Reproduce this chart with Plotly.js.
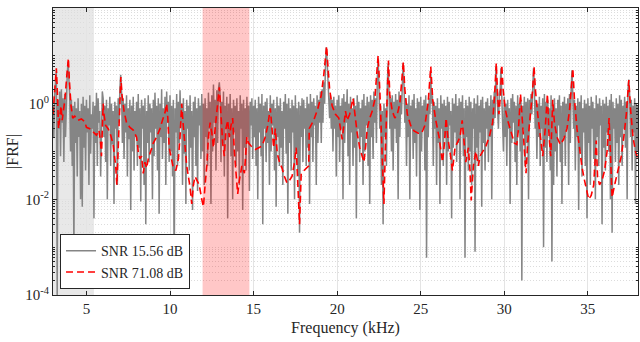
<!DOCTYPE html>
<html>
<head>
<meta charset="utf-8">
<script src="https://cdn.plot.ly/plotly-3.0.1.min.js"></script>
<style>html,body{margin:0;padding:0;background:#fff}#chart{width:640px;height:342px}</style>
</head>
<body>
<div id="chart"></div>
<script>
// Noisy FRF (SNR 15.56 dB), sampled every 0.05 kHz from 3.00 kHz
const grayStartKHz = 3.0;
const grayStepKHz = 0.05;
const grayFRF = [
/*3*/  0.9,0.2,1.5,3.5,5.0,0.0001,1.2,0.3,1.8,0.08,2.0,0.4,1.3,0.06,1.6,0.2,2.5,4.0,7.5,3.0,
/*4*/  1.5,0.1,1.2,0.05,0.9,0.0008,1.1,0.15,0.8,0.03,1.3,0.2,0.7,0.01,1.0,0.007,1.4,0.12,0.9,0.04,
/*5*/  1.2,0.25,0.8,0.02,1.5,0.09,0.6,0.3,1.1,0.004,0.9,0.15,1.7,0.05,1.3,0.4,0.7,0.03,1.0,1.8,
/*6*/  1.3,0.2,0.9,0.06,1.2,0.01,0.8,0.35,1.4,0.05,1.0,0.14,0.7,0.008,1.1,0.3,0.9,0.02,1.3,0.4,
/*7*/  2.0,4.0,1.8,0.15,1.3,0.07,1.0,0.25,1.5,0.03,0.8,0.18,1.2,0.006,0.9,0.1,1.4,0.04,0.7,0.2,
/*8*/  1.1,0.05,1.6,0.12,0.8,0.009,1.2,0.3,0.9,0.02,1.3,0.003,0.7,0.15,1.5,0.06,1.0,0.25,0.8,0.01,
/*9*/  1.2,0.08,1.7,0.3,0.9,0.04,1.3,0.005,1.0,0.2,2.0,0.07,0.8,0.15,1.4,0.02,1.8,0.4,1.1,0.06,
/*10*/ 1.5,0.1,0.9,0.03,1.2,0.0002,0.8,0.25,1.6,0.05,1.1,0.15,1.9,0.4,1.0,0.02,1.3,0.09,0.7,0.008,
/*11*/ 1.2,0.3,0.9,0.04,1.5,0.12,0.7,0.006,1.1,0.2,1.4,0.05,0.8,0.015,1.3,0.35,0.9,0.07,1.6,0.1,
/*12*/ 1.0,0.02,1.3,0.2,0.8,0.05,1.7,0.3,1.1,0.008,1.5,0.1,2.5,0.4,1.2,0.04,1.9,0.15,2.0,2.8,
/*13*/ 1.5,0.06,1.1,0.15,1.8,0.03,0.9,0.3,1.4,0.004,1.0,0.2,1.6,0.08,0.8,0.01,1.2,0.25,0.9,0.05,
/*14*/ 1.3,0.1,0.7,0.02,1.5,0.3,1.0,0.006,1.2,0.12,0.8,0.04,1.4,0.2,0.9,0.015,1.1,0.35,1.3,0.07,
/*15*/ 0.9,0.2,1.2,0.05,0.8,0.01,1.4,0.25,1.0,0.08,1.6,0.003,0.9,0.3,1.1,0.06,1.3,0.15,0.7,0.02,
/*16*/ 1.5,0.1,1.0,0.35,1.2,0.04,0.8,0.007,1.4,0.2,0.9,0.05,1.3,0.12,0.7,0.02,1.1,0.3,1.6,0.09,
/*17*/ 1.0,0.005,1.3,0.15,0.8,0.04,1.2,0.25,0.9,0.01,1.5,0.1,0.8,0.03,1.1,0.002,0.9,0.2,1.3,0.06,
/*18*/ 1.2,0.3,0.8,0.05,1.4,0.12,1.0,0.008,1.6,0.2,1.1,0.06,1.3,0.35,0.9,0.02,1.5,0.15,1.2,0.4,
/*19*/ 1.8,0.15,2.0,0.4,2.8,1.0,6.0,15,8.0,2.5,1.8,0.5,1.5,0.3,1.2,0.1,1.4,0.3,0.9,0.03,
/*20*/ 1.2,0.2,1.5,0.06,0.9,0.3,1.3,0.01,1.6,0.15,1.1,0.4,2.0,0.08,1.0,0.02,1.4,0.25,0.8,0.05,
/*21*/ 1.3,0.12,0.9,0.004,1.5,0.3,1.1,0.06,0.8,0.2,1.2,0.02,1.6,0.1,0.9,0.35,1.4,0.05,1.1,0.008,
/*22*/ 1.5,0.2,1.2,0.07,1.8,0.4,1.3,0.15,3.0,9.0,2.5,0.3,0.9,0.02,0.7,0.003,1.0,0.2,0.8,0.05,
/*23*/ 2.5,7.0,2.0,0.3,1.3,0.1,1.5,0.04,1.1,0.3,1.6,0.15,1.2,0.01,1.8,0.2,1.5,0.6,2.5,7.0,
/*24*/ 2.5,0.4,1.3,0.05,1.0,0.2,1.5,0.01,0.9,0.3,1.2,0.07,1.6,0.15,0.8,0.03,1.3,0.25,1.1,0.006,
/*25*/ 1.4,0.1,0.9,0.3,1.2,0.04,1.5,0.0006,1.0,0.2,1.3,0.6,4.5,1.0,1.5,0.05,1.1,0.3,0.9,0.02,
/*26*/ 1.3,0.15,0.8,0.008,1.5,0.3,1.0,0.05,1.2,0.2,0.9,0.02,1.4,0.1,1.1,0.35,0.7,0.004,1.3,0.12,
/*27*/ 1.0,0.25,1.6,0.06,0.9,0.15,1.3,0.01,1.1,0.3,1.5,0.08,0.8,0.0006,1.2,0.2,0.9,0.04,1.4,0.1,
/*28*/ 1.1,0.02,0.8,0.3,1.3,0.0008,1.0,0.12,1.5,0.05,0.9,0.25,1.2,0.007,1.4,0.15,0.8,0.04,1.1,0.3,
/*29*/ 1.3,0.06,0.9,0.2,1.5,0.01,1.2,0.35,1.8,0.5,6.0,1.5,1.2,0.3,1.6,2.0,5.5,1.5,0.9,0.1,
/*30*/ 1.4,0.2,1.0,0.05,1.2,0.3,0.8,0.008,1.3,0.15,1.6,0.4,1.1,0.06,0.9,0.02,1.5,0.25,1.0,0.1,
/*31*/ 1.2,0.0002,0.9,0.3,1.4,0.05,1.1,0.15,1.3,0.01,1.2,0.4,1.6,0.6,2.0,5.5,2.2,0.3,1.2,0.07,
/*32*/ 1.0,0.2,1.4,0.05,0.9,0.3,1.3,0.001,1.6,0.12,1.1,0.06,1.2,0.25,0.8,0.04,1.5,0.0005,1.0,0.02,
/*33*/ 1.3,0.1,0.8,0.03,1.2,0.35,1.5,0.06,0.9,0.008,1.1,0.2,1.4,0.05,1.0,0.3,1.3,0.02,1.6,0.15,
/*34*/ 2.0,5.0,1.5,0.3,1.2,0.04,0.9,0.2,1.3,0.006,1.1,0.1,1.5,0.03,0.8,0.25,1.2,0.05,1.0,0.004,
/*35*/ 1.3,0.15,0.9,0.02,1.4,0.3,1.1,0.07,0.8,0.01,1.5,0.2,1.0,0.05,1.3,0.35,0.9,0.003,1.2,0.12,
/*36*/ 1.0,0.04,1.4,0.25,0.9,0.1,1.2,0.01,1.6,0.002,1.1,0.3,0.8,0.06,1.3,0.15,1.0,0.02,1.5,0.2,
/*37*/ 1.2,0.05,0.9,0.3,1.4,0.12,1.1,0.01,2.0,3.2,1.5,0.2,1.2,0.04,0.9,0.25,1.3,0.008,1.0,0.1,
/*38*/ 0.9
];

// Clean FRF (SNR 71.08 dB)
const redKHz = [3.0,3.08,3.14,3.2,3.26,3.33,3.4,3.48,3.55,3.62,3.72,3.8,3.88,3.92,3.98,4.08,4.18,4.3,4.5,4.7,4.9,5.0,5.2,5.4,5.6,5.75,5.85,5.9,5.95,6.0,6.05,6.15,6.3,6.45,6.6,6.75,6.82,6.9,6.98,7.06,7.13,7.25,7.4,7.6,7.8,8.0,8.1,8.2,8.3,8.4,8.5,8.6,8.7,8.85,9.0,9.2,9.4,9.55,9.7,9.8,9.87,9.95,10.05,10.2,10.35,10.5,10.6,10.7,10.78,10.9,11.0,11.1,11.2,11.3,11.4,11.5,11.6,11.75,11.9,12.0,12.1,12.2,12.3,12.4,12.5,12.6,12.7,12.85,12.95,13.05,13.15,13.25,13.35,13.45,13.55,13.65,13.75,13.85,13.95,14.05,14.15,14.3,14.45,14.6,14.7,14.85,15.1,15.3,15.5,15.7,15.85,16.0,16.1,16.2,16.3,16.42,16.55,16.7,16.85,17.0,17.15,17.3,17.45,17.55,17.65,17.75,17.85,18.0,18.15,18.3,18.33,18.6,18.85,19.05,19.2,19.3,19.37,19.45,19.55,19.7,19.9,20.1,20.2,20.3,20.4,20.5,20.6,20.75,20.95,21.05,21.2,21.35,21.5,21.6,21.7,21.8,21.95,22.1,22.25,22.35,22.45,22.55,22.65,22.75,22.8,22.88,22.95,23.02,23.07,23.15,23.3,23.45,23.6,23.75,23.88,23.96,24.05,24.2,24.4,24.6,24.85,25.05,25.25,25.45,25.6,25.72,25.9,26.1,26.3,26.42,26.52,26.62,26.75,26.9,27.05,27.2,27.35,27.48,27.58,27.7,27.85,27.95,28.02,28.15,28.3,28.45,28.55,28.7,28.9,29.1,29.3,29.42,29.52,29.6,29.68,29.77,29.85,29.93,30.05,30.2,30.4,30.6,30.75,30.85,30.97,31.07,31.2,31.3,31.4,31.55,31.7,31.78,31.86,32.0,32.15,32.3,32.45,32.58,32.68,32.78,32.9,33.0,33.15,33.35,33.55,33.75,33.9,34.02,34.1,34.2,34.35,34.5,34.65,34.8,34.95,35.05,35.2,35.35,35.5,35.58,35.7,35.85,36.0,36.15,36.27,36.37,36.45,36.6,36.8,37.0,37.15,37.3,37.45,37.55,37.7,37.85,38.0];
const redFRF = [0.6,1.3,3.0,5.5,1.8,0.3,0.5,0.9,0.45,0.7,1.3,3.0,6.5,9.0,3.0,0.9,0.5,0.55,0.45,0.48,0.42,0.32,0.3,0.26,0.22,0.28,0.15,0.08,0.6,1.0,0.6,0.35,0.3,0.22,0.14,0.05,0.02,0.15,1.0,3.6,1.5,0.7,0.4,0.32,0.28,0.2,0.1,0.07,0.08,0.035,0.06,0.045,0.07,0.1,0.15,0.2,0.3,0.45,0.65,1.0,0.5,0.12,0.08,0.045,0.04,0.07,0.2,1.0,0.4,0.1,0.05,0.03,0.018,0.008,0.02,0.03,0.025,0.02,0.01,0.007,0.02,0.05,0.2,0.4,0.25,0.12,0.3,1.0,2.2,0.6,0.15,0.08,0.3,0.45,0.2,0.35,0.5,0.1,0.03,0.013,0.025,0.05,0.035,0.2,0.15,0.13,0.11,0.12,0.13,0.2,0.35,0.8,0.35,0.12,0.3,0.09,0.06,0.045,0.03,0.022,0.025,0.03,0.06,0.12,0.02,0.003,0.035,0.04,0.045,0.05,0.3,0.45,0.8,1.5,4.0,10,16,6,2.0,0.9,0.6,0.5,0.3,0.18,0.35,0.7,0.45,0.6,1.3,0.6,0.24,0.12,0.08,0.06,0.12,0.3,0.5,0.7,1.2,3.0,10,2.0,0.2,0.02,0.008,0.1,0.6,3.0,8,1.5,0.7,0.5,0.6,1.0,3.0,7.5,2.0,0.6,0.35,0.27,0.24,0.24,0.35,1.1,6.0,1.2,0.45,0.2,0.06,0.15,0.5,0.2,0.1,0.04,0.12,0.15,0.2,0.45,0.15,0.06,0.12,0.04,0.0095,0.05,0.1,0.05,0.08,0.1,0.13,0.2,0.4,1.5,7,1.5,0.6,1.5,6.5,2.0,0.8,0.45,0.25,0.15,0.14,0.3,1.6,0.5,0.1,0.035,0.15,0.5,2.0,6.0,2.0,0.6,0.2,0.08,0.3,1.6,0.2,0.08,1.2,0.4,0.2,0.14,0.18,0.3,0.7,2.0,5.5,1.2,0.3,0.12,0.047,0.025,0.015,0.01,0.012,0.02,0.17,0.03,0.02,0.025,0.04,0.1,0.5,0.05,0.011,0.02,0.04,0.08,0.2,0.6,3.1,0.8,0.2,0.1,0.07];

const xTickVals = [5,10,15,20,25,30,35];
const yTickVals = [1e-4,1e-2,1,1e2];
const yTickText = ['10<sup>-4</sup>','10<sup>-2</sup>','10<sup>0</sup>','10<sup>2</sup>'];
const legendNames = ['SNR 15.56 dB','SNR 71.08 dB'];
const grayBandKHz = [3.0,5.45];
const redBandKHz = [11.95,14.75];

const grayKHz = grayFRF.map((_, i) => +(grayStartKHz + i * grayStepKHz).toFixed(2));

const font = "'Liberation Serif', 'Times New Roman', serif";
const ink = '#262626';

const traces = [
  {x: grayKHz, y: grayFRF, type: 'scatter', mode: 'lines', name: legendNames[0],
   line: {color: '#858585', width: 1.5}},
  {x: redKHz, y: redFRF, type: 'scatter', mode: 'lines', name: legendNames[1],
   line: {color: '#ff0000', width: 1.6, dash: '7px,4px'}}
];

const layout = {
  width: 640, height: 342,
  margin: {l: 53, r: 2, t: 8, b: 47},
  paper_bgcolor: '#fff', plot_bgcolor: '#fff',
  font: {family: font, size: 15, color: ink},
  showlegend: true,
  legend: {x: 0.012, y: 0.02, xanchor: 'left', yanchor: 'bottom',
    bgcolor: '#fff', bordercolor: ink, borderwidth: 1,
    font: {family: font, size: 14, color: ink}, tracegroupgap: 0},
  xaxis: {
    range: [3, 38], tickmode: 'array', tickvals: xTickVals,
    ticks: 'inside', ticklen: 4, tickcolor: ink, mirror: 'ticks',
    showline: true, linecolor: ink, linewidth: 1,
    showgrid: true, gridcolor: '#e4e4e4', zeroline: false,
    tickfont: {family: font, size: 15, color: ink},
    title: {text: 'Frequency (kHz)', font: {family: font, size: 16, color: ink}, standoff: 5}
  },
  yaxis: {
    type: 'log', range: [-4, 2], tickmode: 'array', tickvals: yTickVals, ticktext: yTickText,
    ticks: 'inside', ticklen: 4, tickcolor: ink, mirror: 'ticks',
    showline: true, linecolor: ink, linewidth: 1,
    showgrid: true, gridcolor: '#e4e4e4', zeroline: false,
    minor: {dtick: 'D1', showgrid: true, gridcolor: '#dcdcdc', griddash: '1px,2px', ticks: 'inside', ticklen: 2, tickcolor: ink},
    tickfont: {family: font, size: 15, color: ink},
    title: {text: '|FRF|', font: {family: font, size: 16, color: ink}, standoff: 2}
  },
  shapes: [
    {type: 'rect', xref: 'x', yref: 'paper', x0: grayBandKHz[0], x1: grayBandKHz[1], y0: 0, y1: 1,
     fillcolor: 'rgba(0,0,0,0.09)', line: {width: 0}, layer: 'below'},
    {type: 'rect', xref: 'x', yref: 'paper', x0: redBandKHz[0], x1: redBandKHz[1], y0: 0, y1: 1,
     fillcolor: 'rgba(255,0,0,0.22)', line: {width: 0}, layer: 'above'}
  ]
};

Plotly.newPlot('chart', traces, layout, {displayModeBar: false, staticPlot: true});
</script>
</body>
</html>
